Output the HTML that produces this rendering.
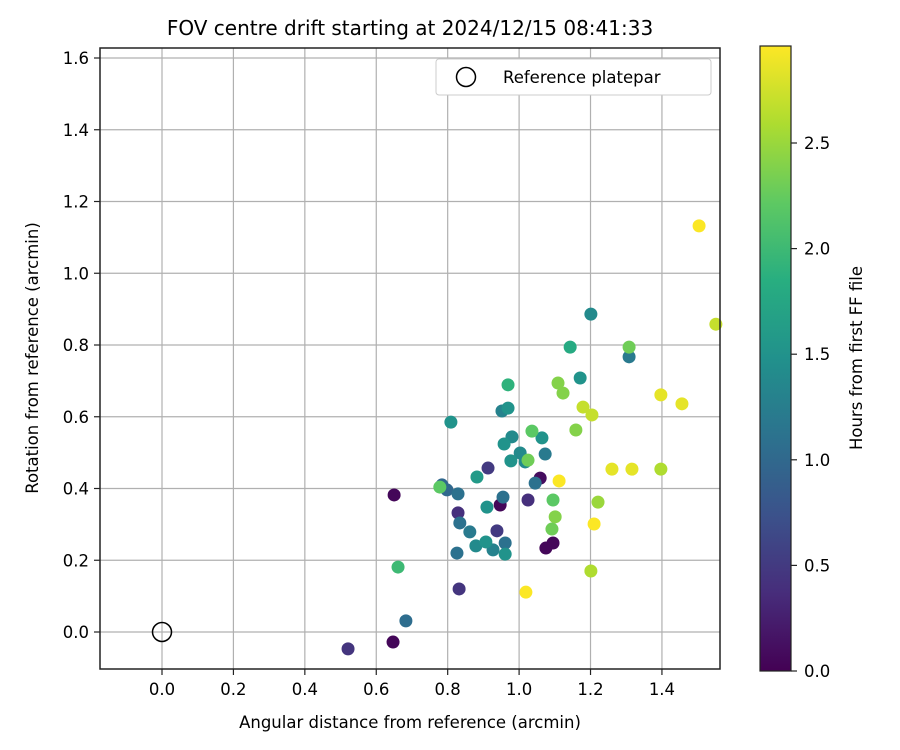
<!DOCTYPE html>
<html><head><meta charset="utf-8"><style>
body{margin:0;background:#fff}
svg{display:block;font-family:"DejaVu Sans","Liberation Sans",sans-serif}
</style></head><body>
<svg id="chart" width="900" height="750" viewBox="0 0 900 750">
<defs><linearGradient id="vir" x1="0" y1="1" x2="0" y2="0">
<stop offset="0" stop-color="#440154"/><stop offset="0.125" stop-color="#472d7b"/><stop offset="0.25" stop-color="#3b528b"/><stop offset="0.375" stop-color="#2c728e"/><stop offset="0.5" stop-color="#21918c"/><stop offset="0.625" stop-color="#28ae80"/><stop offset="0.75" stop-color="#5ec962"/><stop offset="0.875" stop-color="#addc30"/><stop offset="1" stop-color="#fde725"/></linearGradient></defs>
<text x="410" y="35" font-size="20" text-anchor="middle">FOV centre drift starting at 2024/12/15 08:41:33</text>
<g id="grid"></g><g id="ticks"></g><g id="pts"></g>
<rect x="100" y="48" width="620" height="621" fill="none" stroke="#222" stroke-width="1.5"/>
<text x="410" y="728" font-size="16.5" text-anchor="middle">Angular distance from reference (arcmin)</text>
<text transform="translate(38,358) rotate(-90)" font-size="16.5" text-anchor="middle">Rotation from reference (arcmin)</text>
<g>
<rect x="436" y="59" width="275" height="36" rx="3" fill="#fff" stroke="#ccc"/>
<circle cx="466" cy="77" r="9.5" fill="none" stroke="#000" stroke-width="1.5"/>
<text x="503" y="83" font-size="16.5">Reference platepar</text>
</g>
<rect x="760" y="46" width="31" height="625" fill="url(#vir)" stroke="#222" stroke-width="1.2"/>
<g id="cbticks"></g>
<text transform="translate(862,358) rotate(-90)" font-size="16.5" text-anchor="middle">Hours from first FF file</text>
</svg>
<script>
const xs=[1.201,1.551,1.143,1.308,1.308,0.969,1.171,1.109,1.123,0.952,0.969,0.809,1.179,1.204,1.397,1.456,1.036,1.064,0.980,0.958,1.003,1.073,0.977,1.017,1.025,1.159,0.913,0.882,1.059,1.045,1.112,1.260,1.316,1.397,0.784,0.778,0.798,0.829,0.955,0.947,0.910,1.025,1.095,1.221,0.829,0.834,1.101,1.092,0.862,1.210,0.938,0.907,0.879,0.961,0.927,0.961,1.095,1.075,0.826,1.201,0.832,1.019,0.521,0.647,0.650,0.683,0.661,1.504];
const ys=[0.886,0.858,0.794,0.794,0.767,0.689,0.708,0.694,0.666,0.616,0.624,0.585,0.627,0.605,0.661,0.636,0.560,0.541,0.544,0.524,0.499,0.496,0.477,0.474,0.479,0.563,0.457,0.432,0.429,0.415,0.421,0.454,0.454,0.454,0.410,0.404,0.396,0.385,0.376,0.354,0.348,0.368,0.368,0.362,0.332,0.304,0.321,0.287,0.279,0.301,0.282,0.251,0.240,0.248,0.229,0.217,0.248,0.234,0.220,0.170,0.120,0.111,-0.047,-0.028,0.382,0.031,0.181,1.132];
const hours=[1.4,2.7,1.8,2.3,1.2,1.9,1.5,2.4,2.4,1.3,1.5,1.5,2.7,2.7,2.85,2.85,2.2,1.5,1.4,1.5,1.4,1.2,1.5,1.4,2.3,2.4,0.5,1.6,0.1,1.1,2.95,2.85,2.85,2.6,1.0,2.2,1.0,1.1,1.1,0.05,1.5,0.4,2.2,2.5,0.4,1.1,2.4,2.3,1.2,2.95,0.5,1.5,1.4,1.1,1.3,1.5,0.05,0.05,1.1,2.6,0.45,2.95,0.45,0.05,0.05,1.05,2.0,2.95];
const xTicks=[0.0,0.2,0.4,0.6,0.8,1.0,1.2,1.4];
const yTicks=[0.0,0.2,0.4,0.6,0.8,1.0,1.2,1.4,1.6];
const cTicks=[0.0,0.5,1.0,1.5,2.0,2.5];
const X=v=>162+v*357.1, Y=v=>632-v*358.75, C=v=>671-v*211.2, HMAX=2.96;
const NS='http://www.w3.org/2000/svg';
function mk(t,a,p){const e=document.createElementNS(NS,t);for(const k in a)e.setAttribute(k,a[k]);p.appendChild(e);return e;}
const stops=[[68,1,84],[71,45,123],[59,82,139],[44,114,142],[33,145,140],[40,174,128],[94,201,98],[173,220,48],[253,231,37]];
function vir(h){let t=Math.max(0,Math.min(1,h/HMAX))*8;let i=Math.min(7,Math.floor(t)),f=t-i;const a=stops[i],b=stops[i+1];return `rgb(${a.map((c,j)=>Math.round(c+(b[j]-c)*f)).join(',')})`;}
const g=document.getElementById('grid'),tk=document.getElementById('ticks'),pts=document.getElementById('pts'),cb=document.getElementById('cbticks');
xTicks.forEach(v=>{const x=X(v);
const l=mk('line',{x1:x,x2:x,y1:48,y2:669,stroke:'#b0b0b0','stroke-width':1.2},g);


mk('line',{x1:x,x2:x,y1:669,y2:675,stroke:'#222','stroke-width':1.2},tk);
const t=mk('text',{x:x,y:695,'font-size':16.5,'text-anchor':'middle'},tk);t.textContent=v.toFixed(1);

});
yTicks.forEach(v=>{const y=Y(v);
const l=mk('line',{x1:100,x2:720,y1:y,y2:y,stroke:'#b0b0b0','stroke-width':1.2},g);


mk('line',{x1:94,x2:100,y1:y,y2:y,stroke:'#222','stroke-width':1.2},tk);
const t=mk('text',{x:89,y:y+6,'font-size':16.5,'text-anchor':'end'},tk);t.textContent=v.toFixed(1);

});
cTicks.forEach(v=>{const y=C(v);
mk('line',{x1:791,x2:797,y1:y,y2:y,stroke:'#222','stroke-width':1.2},cb);
const t=mk('text',{x:804,y:y+6,'font-size':16.5},cb);t.textContent=v.toFixed(1);

});
const ref=mk('circle',{cx:X(0),cy:Y(0),r:9.5,fill:'none',stroke:'#000','stroke-width':1.5},pts);


const idx=xs.map((_,i)=>i).sort((a,b)=>hours[a]-hours[b]);
idx.forEach(i=>{const c=mk('circle',{cx:X(xs[i]),cy:Y(ys[i]),r:6.5,fill:vir(hours[i])},pts);

});
</script>
</body></html>
